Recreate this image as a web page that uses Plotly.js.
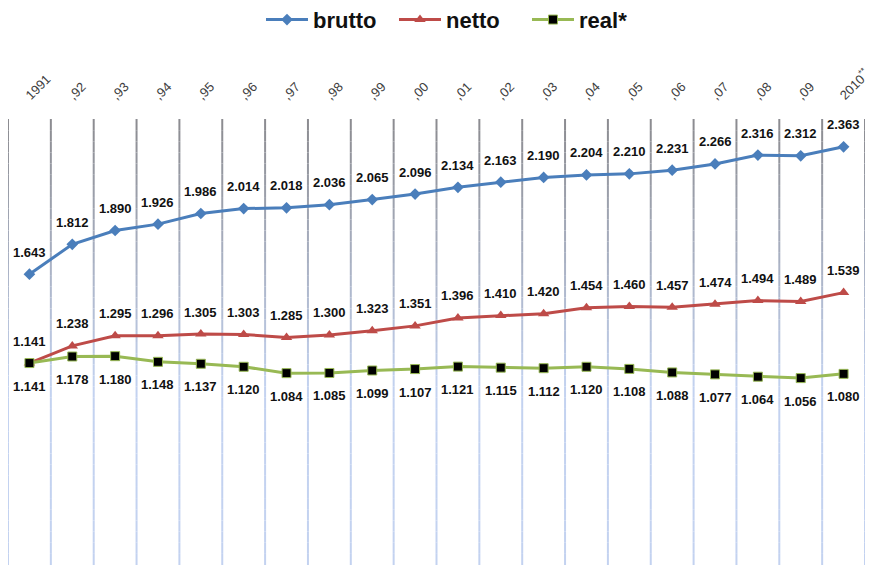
<!DOCTYPE html>
<html>
<head>
<meta charset="utf-8">
<script src="https://cdn.plot.ly/plotly-3.0.1.min.js"></script>
<style>html,body{margin:0;padding:0;background:#fff;}#chart{width:874px;height:565px;}</style>
</head>
<body>
<div id="chart"></div>
<script>
// ---- data ----
const years = ["1991", ",92", ",93", ",94", ",95", ",96", ",97", ",98", ",99", ",00",
               ",01", ",02", ",03", ",04", ",05", ",06", ",07", ",08", ",09", "2010**"];
const brutto = [1.643, 1.812, 1.890, 1.926, 1.986, 2.014, 2.018, 2.036, 2.065, 2.096,
                2.134, 2.163, 2.190, 2.204, 2.210, 2.231, 2.266, 2.316, 2.312, 2.363];
const netto  = [1.141, 1.238, 1.295, 1.296, 1.305, 1.303, 1.285, 1.300, 1.323, 1.351,
                1.396, 1.410, 1.420, 1.454, 1.460, 1.457, 1.474, 1.494, 1.489, 1.539];
const real   = [1.141, 1.178, 1.180, 1.148, 1.137, 1.120, 1.084, 1.085, 1.099, 1.107,
                1.121, 1.115, 1.112, 1.120, 1.108, 1.088, 1.077, 1.064, 1.056, 1.080];
const seriesNames = ["brutto", "netto", "real*"];

// ---- styling ----
const FONT = "Liberation Sans, Arial, sans-serif";
const idx = years.map((_, i) => i);
const fmt = v => v.toFixed(3);
const tickText = years.map(y => y.replace("**", "<sup>**</sup>"));

const traces = [
  {x: idx, y: brutto, name: seriesNames[0], type: "scatter", mode: "lines+markers",
   line: {color: "#4A7EBB", width: 3}, marker: {symbol: "diamond", size: 9, color: "#4A7EBB"}},
  {x: idx, y: netto, name: seriesNames[1], type: "scatter", mode: "lines+markers",
   line: {color: "#BE4B48", width: 3}, marker: {symbol: "triangle-up", size: 10, color: "#BE4B48"}},
  {x: idx, y: real, name: seriesNames[2], type: "scatter", mode: "lines+markers",
   line: {color: "#98B954", width: 3},
   marker: {symbol: "square", size: 9, color: "#000000", line: {color: "#98B954", width: 1}}}
];

const annotations = [];
function addLabels(arr, shift) {
  arr.forEach((v, i) => annotations.push({
    x: i, y: v, xref: "x", yref: "y", text: fmt(v), showarrow: false,
    yshift: shift, font: {family: FONT, size: 13, color: "#111", weight: "bold"}
  }));
}
addLabels(brutto, 22);
addLabels(netto, 22);
addLabels(real, -23);

// gradient vertical separator lines (grey at top -> light blue at bottom)
const shapes = [];
const N = 40;
function lerp(a, b, t) { return Math.round(a + (b - a) * t); }
for (let k = 0; k <= years.length; k++) {
  for (let s = 0; s < N; s++) {
    const t = s / (N - 1);
    const u = Math.min(1, t / 0.6);
    const r = lerp(140, 195, u), g = lerp(140, 210, u), b = lerp(145, 240, u);
    shapes.push({
      type: "line", xref: "x", yref: "paper",
      x0: k - 0.5, x1: k - 0.5, y0: 1 - s / N, y1: 1 - (s + 1) / N,
      line: {color: `rgb(${r},${g},${b})`, width: 2}, layer: "below"
    });
  }
}

const layout = {
  width: 874, height: 565,
  margin: {l: 8, r: 9, t: 119, b: 0},
  paper_bgcolor: "#fff", plot_bgcolor: "#fff",
  font: {family: FONT},
  showlegend: true,
  legend: {orientation: "h", x: 0.528, xanchor: "center", yref: "container", y: 0.965, yanchor: "middle",
           font: {family: FONT, size: 22, color: "#111", weight: "bold"}, itemwidth: 42,
           entrywidth: 76, entrywidthmode: "pixels",
           bgcolor: "rgba(0,0,0,0)"},
  xaxis: {range: [-0.5, years.length - 0.5], side: "top", tickmode: "array", tickvals: idx, ticktext: tickText,
          tickangle: -45, showgrid: false, zeroline: false, showline: false, ticks: "",
          ticklabelstandoff: 13, ticklabelshift: -3, ticklabeloverflow: "allow",
          tickfont: {family: FONT, size: 13, color: "#404040"}, fixedrange: true},
  yaxis: {range: [0, 2.52], visible: false, showgrid: false, zeroline: false, fixedrange: true},
  annotations: annotations,
  shapes: shapes
};

Plotly.newPlot("chart", traces, layout, {displayModeBar: false, staticPlot: true});
</script>
</body>
</html>
